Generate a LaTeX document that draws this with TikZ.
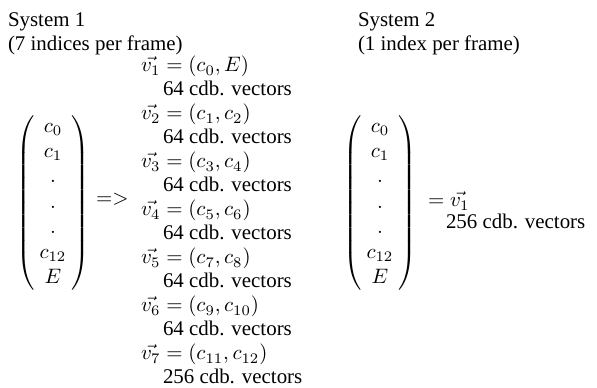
\documentclass[tikz,border=0pt]{standalone}
\usepackage[no-math]{fontspec}
\setmainfont{Liberation Serif}
\begin{document}
\begin{tikzpicture}[x=0.4785pt,y=-0.4785pt,
  txt/.style={anchor=base west,inner sep=0pt,outer sep=0pt},
  vecmat/.style={anchor=center,inner sep=0pt,outer sep=0pt}]
\useasboundingbox (0,0) rectangle (597,388);
\setlength{\arraycolsep}{2.5pt}
% headings
\node[txt] (s1) at (8,27) {System 1};
\node[txt] (s1b) at (8,50.5) {(7 indices per frame)};
\node[txt] (s2) at (358,27) {System 2};
\node[txt] (s2b) at (358,50.5) {(1 index per frame)};
% matrices
\node[vecmat] (m1) at (53,203) {$\left(\begin{array}{c} c_0\\ c_1\\ .\\ .\\ .\\ c_{12}\\ E\end{array}\right)$};
\node[vecmat] (m2) at (380,203) {$\left(\begin{array}{c} c_0\\ c_1\\ .\\ .\\ .\\ c_{12}\\ E\end{array}\right)$};
\node[txt] (impl) at (96,205) {$=>$};
% system 1 vectors
\node[txt] (v1) at (141,72) {$\vec{v_1}=(c_0,E)$};
\node[txt] (n1) at (163,96) {64 cdb. vectors};
\node[txt] (v2) at (141,120) {$\vec{v_2}=(c_1,c_2)$};
\node[txt] (n2) at (163,144) {64 cdb. vectors};
\node[txt] (v3) at (141,168) {$\vec{v_3}=(c_3,c_4)$};
\node[txt] (n3) at (163,192) {64 cdb. vectors};
\node[txt] (v4) at (141,216) {$\vec{v_4}=(c_5,c_6)$};
\node[txt] (n4) at (163,240) {64 cdb. vectors};
\node[txt] (v5) at (141,264) {$\vec{v_5}=(c_7,c_8)$};
\node[txt] (n5) at (163,288) {64 cdb. vectors};
\node[txt] (v6) at (141,312) {$\vec{v_6}=(c_9,c_{10})$};
\node[txt] (n6) at (163,336) {64 cdb. vectors};
\node[txt] (v7) at (141,360) {$\vec{v_7}=(c_{11},c_{12})$};
\node[txt] (n7) at (163,384) {256 cdb. vectors};
% system 2
\node[txt] (w1) at (428,207) {$=\vec{v_1}$};
\node[txt] (wn) at (446,229) {256 cdb. vectors};
\end{tikzpicture}
\end{document}
